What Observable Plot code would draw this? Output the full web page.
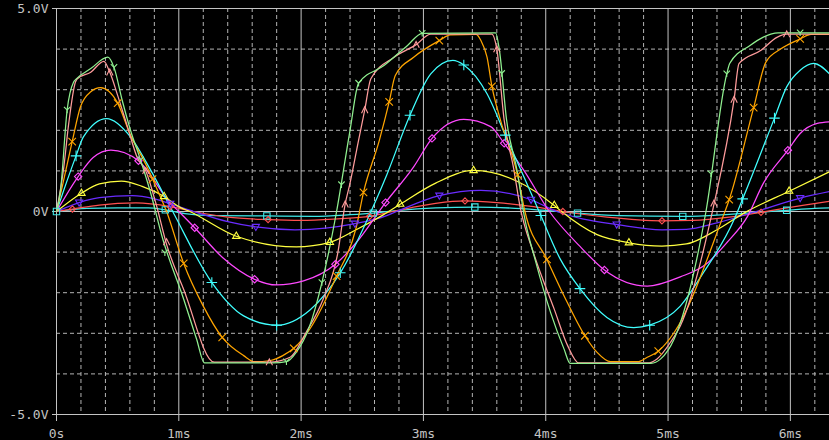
<!DOCTYPE html>
<html>
<head>
<meta charset="utf-8">
<script src="https://cdn.jsdelivr.net/npm/d3@7"></script>
<script src="https://cdn.jsdelivr.net/npm/@observablehq/plot@0.6"></script>
<style>
  html, body { margin: 0; padding: 0; background: #000; }
  #chart svg { display: block; }
</style>
</head>
<body>
<div id="chart"></div>
<script>
// ---- data (time in ms, voltage in V) ----
const green = [[0,0],[0.033,0.53],[0.087,2.50],[0.14,3.19],[0.16,3.26],[0.28,3.52],[0.42,3.80],[0.47,3.55],[0.537,2.74],[0.605,2.0],[0.687,1.27],[0.763,0.53],[0.87,-0.69],[1.04,-2.16],[1.145,-3.14],[1.21,-3.73],[1.77,-3.73],[1.88,-3.70],[1.96,-3.47],[2.07,-2.82],[2.17,-1.75],[2.29,0],[2.40,2.0],[2.47,3.16],[2.68,3.60],[2.87,4.09],[2.99,4.39],[3.59,4.40],[3.62,4.0],[3.68,2.25],[3.77,0.94],[3.82,-0.04],[3.92,-1.26],[4.04,-2.49],[4.15,-3.39],[4.20,-3.74],[4.86,-3.74],[4.94,-3.63],[5.05,-3.14],[5.31,0],[5.48,3.39],[5.505,3.65],[5.67,4.09],[5.84,4.37],[5.9,4.40],[6.32,4.40]];
const pink = [[0,0],[0.06,1.1],[0.10,2.17],[0.155,3.19],[0.17,3.27],[0.28,3.43],[0.387,3.70],[0.436,3.43],[0.50,2.86],[0.58,2.09],[0.66,1.33],[0.73,1.0],[0.82,0.12],[0.90,-0.81],[1.04,-1.92],[1.29,-3.71],[1.74,-3.71],[1.91,-3.59],[2.04,-2.98],[2.18,-2.16],[2.30,-1.02],[2.36,0.18],[2.40,0.70],[2.47,1.76],[2.52,2.50],[2.57,3.27],[2.76,3.80],[2.94,4.11],[3.06,4.37],[3.56,4.37],[3.60,4.0],[3.66,2.25],[3.74,1.02],[3.79,0.12],[3.90,-1.02],[4.07,-2.41],[4.18,-3.31],[4.27,-3.73],[4.83,-3.73],[4.91,-3.63],[5.02,-3.22],[5.10,-2.82],[5.37,0.1],[5.54,2.76],[5.58,3.64],[5.76,3.97],[5.89,4.29],[5.97,4.37],[6.32,4.37]];
const orange = [[0,0],[0.046,0.6],[0.128,1.72],[0.196,2.58],[0.28,2.95],[0.36,3.05],[0.50,2.67],[0.605,1.88],[0.74,1.10],[0.80,0.70],[0.90,0],[1.04,-1.28],[1.20,-2.33],[1.355,-3.10],[1.53,-3.55],[1.62,-3.70],[1.75,-3.67],[1.85,-3.55],[1.94,-3.37],[2.07,-2.90],[2.29,-1.59],[2.45,-0.4],[2.51,0.47],[2.64,1.76],[2.72,2.70],[2.77,3.35],[2.92,3.80],[3.13,4.21],[3.22,4.35],[3.43,4.36],[3.47,4.21],[3.52,3.80],[3.56,3.08],[3.63,2.25],[3.77,0.90],[3.83,0],[4.01,-1.18],[4.15,-2.08],[4.32,-3.06],[4.42,-3.47],[4.53,-3.70],[4.75,-3.70],[4.83,-3.59],[4.92,-3.44],[5.05,-2.98],[5.44,-0.2],[5.50,0.29],[5.70,2.56],[5.80,3.68],[5.92,4.0],[6.08,4.25],[6.17,4.36],[6.32,4.36]];
const cyan = [[0,0],[0.06,0.53],[0.16,1.37],[0.22,1.84],[0.41,2.29],[0.605,1.84],[0.77,1.02],[0.95,0],[1.27,-1.75],[1.53,-2.57],[1.80,-2.80],[2.07,-2.43],[2.32,-1.51],[2.62,0.33],[2.70,0.90],[2.89,2.37],[3.06,3.39],[3.24,3.72],[3.33,3.61],[3.52,2.90],[3.67,1.88],[3.85,0.66],[3.96,-0.1],[4.12,-1.18],[4.28,-1.90],[4.50,-2.61],[4.72,-2.86],[4.85,-2.80],[5.10,-2.33],[5.28,-1.55],[5.54,-0.2],[5.61,0.31],[5.87,2.30],[5.97,3.07],[6.08,3.48],[6.19,3.65],[6.32,3.39]];
const magenta = [[0,0],[0.177,0.86],[0.30,1.33],[0.445,1.51],[0.67,1.25],[0.93,0.21],[1.0,0],[1.13,-0.40],[1.36,-1.14],[1.62,-1.67],[1.80,-1.81],[2.02,-1.71],[2.28,-1.30],[2.45,-0.77],[2.69,0.22],[2.92,1.10],[3.07,1.80],[3.33,2.27],[3.55,2.09],[3.66,1.68],[3.82,1.02],[4.03,0],[4.28,-0.86],[4.48,-1.44],[4.83,-1.84],[5.10,-1.61],[5.31,-1.30],[5.48,-0.77],[5.65,-0.12],[5.78,0.70],[5.98,1.51],[6.08,1.92],[6.22,2.17],[6.32,2.21]];
const yellow = [[0,0],[0.204,0.45],[0.35,0.68],[0.53,0.75],[0.70,0.62],[0.88,0.37],[1.0,0.12],[1.09,0],[1.47,-0.61],[1.96,-0.87],[2.235,-0.76],[2.45,-0.45],[2.65,-0.12],[2.81,0.18],[3.1,0.7],[3.41,1.01],[3.77,0.74],[4.07,0.15],[4.13,0],[4.42,-0.57],[4.68,-0.77],[4.95,-0.85],[5.15,-0.80],[5.4,-0.45],[5.62,-0.04],[5.99,0.5],[6.32,0.98]];
const blue = [[0,0],[0.185,0.22],[0.35,0.34],[0.62,0.39],[0.80,0.31],[0.93,0.19],[1.12,0],[1.40,-0.25],[1.63,-0.38],[1.95,-0.45],[2.2,-0.41],[2.44,-0.30],[2.70,-0.10],[2.78,0],[3.13,0.39],[3.47,0.52],[3.88,0.29],[4.09,0],[4.30,-0.18],[4.58,-0.32],[4.95,-0.45],[5.15,-0.44],[5.40,-0.28],[5.72,0],[6.08,0.33],[6.32,0.49]];
const red = [[0,0],[0.13,0.06],[0.35,0.16],[0.65,0.21],[0.93,0.12],[1.12,0],[1.4,-0.14],[1.73,-0.20],[2.0,-0.22],[2.3,-0.18],[2.56,-0.12],[2.75,0],[3.1,0.2],[3.34,0.26],[3.6,0.22],[3.9,0.12],[4.14,0],[4.5,-0.14],[4.95,-0.23],[5.2,-0.22],[5.5,-0.14],[5.76,-0.02],[6.1,0.15],[6.32,0.25]];
const teal = [[0,0],[0.25,0.08],[0.5,0.09],[0.75,0.09],[0.89,0.04],[1.05,-0.05],[1.3,-0.10],[1.72,-0.11],[2.1,-0.12],[2.4,-0.08],[2.59,-0.04],[2.8,0.03],[3.1,0.09],[3.42,0.11],[3.75,0.08],[4.0,0.03],[4.26,-0.04],[4.6,-0.10],[5.12,-0.12],[5.5,-0.07],[5.75,-0.02],[5.97,0.03],[6.2,0.08],[6.32,0.09]];

// marker positions
const greenMk = [[0.087,2.50],[0.47,3.55],[0.687,1.27],[0.886,-1.02],[1.88,-3.70],[2.17,-1.75],[2.33,0.66],[2.47,3.16],[2.99,4.39],[3.64,3.4],[5.35,0.93],[5.48,3.39],[6.08,4.40]];
const pinkMk = [[0.436,3.43],[0.73,1.0],[0.90,-0.75],[1.74,-3.71],[2.36,0.18],[2.52,2.50],[2.94,4.11],[3.60,4.0],[5.375,0.2],[5.54,2.76],[5.97,4.37]];
const orangeMk = [[0.128,1.72],[0.50,2.67],[0.785,0.8],[1.04,-1.28],[1.355,-3.10],[1.94,-3.37],[2.29,-1.59],[2.51,0.47],[2.72,2.70],[3.13,4.21],[3.56,3.08],[3.77,0.90],[4.01,-1.18],[4.32,-3.06],[4.92,-3.44],[5.50,0.29],[5.70,2.56],[6.08,4.25]];
const cyanMk = [[0.16,1.37],[1.27,-1.75],[1.80,-2.80],[2.32,-1.51],[2.89,2.37],[3.33,3.61],[3.67,1.88],[3.96,-0.1],[4.28,-1.90],[4.85,-2.80],[5.61,0.31],[5.87,2.30]];
const magentaMk = [[0.177,0.86],[0.67,1.25],[1.13,-0.40],[1.62,-1.67],[2.28,-1.30],[2.69,0.22],[3.07,1.80],[3.66,1.68],[4.48,-1.44],[5.98,1.51]];
const yellowMk = [[0.204,0.45],[0.88,0.37],[1.47,-0.61],[2.235,-0.76],[2.81,0.18],[3.41,1.01],[4.07,0.15],[4.68,-0.77],[5.99,0.5]];
const blueMk = [[0.185,0.22],[0.93,0.19],[1.63,-0.38],[2.44,-0.30],[3.13,0.39],[3.88,0.29],[4.58,-0.32],[6.08,0.33]];
const redMk = [[0.13,0.06],[0.93,0.12],[1.73,-0.20],[2.56,-0.12],[3.34,0.26],[4.14,0],[4.95,-0.23],[5.76,-0.02]];
const tealMk = [[0,0],[0.89,0.04],[1.72,-0.11],[2.59,-0.04],[3.42,0.11],[4.26,-0.04],[5.12,-0.12],[5.97,0.03]];

// axes
const xMajor = [0, 1, 2, 3, 4, 5, 6];
const xLabels = ["0s", "1ms", "2ms", "3ms", "4ms", "5ms", "6ms"];
const xMinor = [0.2,0.4,0.6,0.8,1.2,1.4,1.6,1.8,2.2,2.4,2.6,2.8,3.2,3.4,3.6,3.8,4.2,4.4,4.6,4.8,5.2,5.4,5.6,5.8,6.2];
const yMajor = [-5, 0, 5];
const yLabels = ["-5.0V", "0V", "5.0V"];
const yMinor = [-4,-3,-2,-1,1,2,3,4];

const C = {
  green: "#90f090", pink: "#ff9c9c", orange: "#ffa500", cyan: "#40ffff",
  magenta: "#ff48ff", yellow: "#ffff40", blue: "#6a2cff", red: "#ff5050", teal: "#3ee8e8"
};
const gridColor = "#b4b4b4";
const axisColor = "#c4c4c4";

// custom outline marker shapes (PSpice-like)
const symTriDown = {draw(ctx, size) { const r = Math.sqrt(size / Math.PI); ctx.moveTo(-r, -r * 0.7); ctx.lineTo(r, -r * 0.7); ctx.lineTo(0, r); ctx.closePath(); }};
const symLambda = {draw(ctx, size) { const r = Math.sqrt(size / Math.PI); ctx.moveTo(-r, r); ctx.lineTo(0, -r); ctx.lineTo(r, r); }};
const symY = {draw(ctx, size) { const r = Math.sqrt(size / Math.PI); ctx.moveTo(-r, -r); ctx.lineTo(0, 0); ctx.lineTo(r, -r); ctx.moveTo(0, 0); ctx.lineTo(0, r); }};

const X = d => d[0], Y = d => d[1];
const lineOpts = (stroke) => ({x: X, y: Y, stroke, strokeWidth: 1.25, curve: "monotone-x"});
const dotOpts = (stroke, symbol, r) => ({x: X, y: Y, stroke, symbol, r, fill: "none", strokeWidth: 1.1});

const chart = Plot.plot({
  width: 829,
  height: 440,
  marginLeft: 56,
  marginRight: 0,
  marginTop: 8,
  marginBottom: 26,
  style: {background: "#000", color: axisColor, fontFamily: "DejaVu Sans Mono", fontSize: "13px"},
  x: {domain: [0, 6.32], axis: null},
  y: {domain: [-5, 5], axis: null},
  marks: [
    Plot.ruleX(xMinor, {stroke: gridColor, strokeDasharray: "4,3", strokeWidth: 1}),
    Plot.ruleY(yMinor, {stroke: gridColor, strokeDasharray: "4,3", strokeWidth: 1}),
    Plot.ruleX(xMajor, {stroke: axisColor, strokeWidth: 1}),
    Plot.ruleY(yMajor, {stroke: axisColor, strokeWidth: 1}),
    Plot.axisX({ticks: xMajor, tickFormat: (d, i) => xLabels[i], tickSize: 7, tickPadding: 7, stroke: axisColor, fill: axisColor, label: null}),
    Plot.axisY({ticks: yMajor, tickFormat: (d, i) => yLabels[i], tickSize: 4, tickPadding: 4, stroke: axisColor, fill: axisColor, label: null}),
    Plot.line(teal, lineOpts(C.teal)),
    Plot.line(red, lineOpts(C.red)),
    Plot.line(blue, lineOpts(C.blue)),
    Plot.line(yellow, lineOpts(C.yellow)),
    Plot.line(magenta, lineOpts(C.magenta)),
    Plot.line(cyan, lineOpts(C.cyan)),
    Plot.line(orange, lineOpts(C.orange)),
    Plot.line(pink, lineOpts(C.pink)),
    Plot.line(green, lineOpts(C.green)),
    Plot.dot(tealMk, dotOpts(C.teal, "square", 3.6)),
    Plot.dot(redMk, dotOpts(C.red, "diamond2", 2.8)),
    Plot.dot(blueMk, dotOpts(C.blue, symTriDown, 3.6)),
    Plot.dot(yellowMk, dotOpts(C.yellow, "triangle2", 3.5)),
    Plot.dot(magentaMk, dotOpts(C.magenta, "diamond2", 3.3)),
    Plot.dot(cyanMk, dotOpts(C.cyan, "plus", 3.5)),
    Plot.dot(orangeMk, dotOpts(C.orange, "times", 3.5)),
    Plot.dot(pinkMk, dotOpts(C.pink, symLambda, 3.2)),
    Plot.dot(greenMk, dotOpts(C.green, symY, 3.2))
  ]
});
document.getElementById("chart").appendChild(chart);
</script>
</body>
</html>
